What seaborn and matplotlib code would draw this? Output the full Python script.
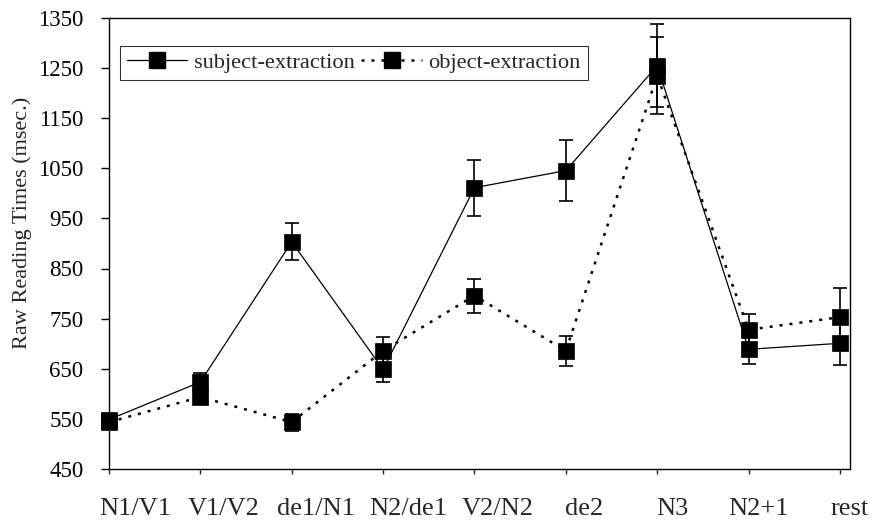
import numpy as np
import pandas as pd
import matplotlib
matplotlib.use("Agg")
import matplotlib.pyplot as plt
from matplotlib.lines import Line2D
import seaborn as sns

# ---- data ----
categories = ["N1/V1", "V1/V2", "de1/N1", "N2/de1", "V2/N2", "de2", "N3", "N2+1", "rest"]
subject_vals = [549, 624, 903, 649, 1011, 1045, 1254, 689, 701]
subject_err = [8, 17, 37, 25, 56, 61, 83, 29, 44]
object_vals = [544, 594, 544, 686, 796, 686, 1234, 728, 753]
object_err = [8, 10, 17, 27, 34, 30, 77, 31, 58]
series_names = ["subject-extraction", "object-extraction"]
y_ticks = [450, 550, 650, 750, 850, 950, 1050, 1150, 1250, 1350]

# layout: horizontal shift of category labels relative to tick marks (data units)
label_shift = [0.29, 0.26, 0.27, 0.28, 0.25, 0.20, 0.17, 0.11, 0.11]

sns.set_style("ticks")
plt.rcParams["font.family"] = ["Liberation Serif", "DejaVu Serif"]

fig = plt.figure(figsize=(8.79, 5.22), dpi=100)
ax = fig.add_axes([109 / 879, 1 - 469.3 / 522, 741 / 879, 451.8 / 522])

pos = np.arange(len(categories))
df = pd.DataFrame({
    "pos": np.concatenate([pos, pos]),
    "value": subject_vals + object_vals,
    "series": [series_names[0]] * len(pos) + [series_names[1]] * len(pos),
})

# error bars underneath
ax.errorbar(pos, subject_vals, yerr=subject_err, fmt="none", ecolor="black",
            elinewidth=1.2, capsize=5, capthick=1.2, zorder=1.5, clip_on=False)
ax.errorbar(pos, object_vals, yerr=object_err, fmt="none", ecolor="black",
            elinewidth=1.2, capsize=5, capthick=1.2, zorder=1.5, clip_on=False)

dot_style = (1.2, 2.8)
sns.lineplot(data=df, x="pos", y="value", hue="series", style="series",
             hue_order=series_names, style_order=series_names,
             palette={series_names[0]: "black", series_names[1]: "black"},
             dashes={series_names[0]: "", series_names[1]: dot_style},
             markers={series_names[0]: "s", series_names[1]: "s"},
             markersize=11, markeredgecolor="black", markeredgewidth=0.5,
             estimator=None, sort=False, legend=False, ax=ax, zorder=3)

lws = [0.9, 1.8]
for ln, lw in zip(ax.get_lines()[-2:], lws):
    ln.set_linewidth(lw)
    ln.set_clip_on(False)

ax.set_xlim(0, len(categories) - 1)
ax.set_ylim(450, 1350)
ax.set_yticks(y_ticks)
ax.tick_params(axis="y", labelsize=16.5, length=5.8, width=1, pad=12.5, direction="out", colors="black")

ax.set_xticks(pos)
ax.tick_params(axis="x", which="major", labelbottom=False, length=3.5, width=1, direction="out")
ax.set_xticks(pos + np.array(label_shift), labels=categories, minor=True)
ax.tick_params(axis="x", which="minor", length=0, labelsize=19, pad=20.5)

ax.set_xlabel("")
ax.set_ylabel("Raw Reading Times (msec.)", fontsize=16)
ax.yaxis.set_label_coords(-0.104, 0.546)

for sp in ax.spines.values():
    sp.set_visible(True)
    sp.set_color("black")
    sp.set_linewidth(1.0)

handles = [
    Line2D([], [], color="black", lw=0.9, marker="s", markersize=11, markeredgecolor="black"),
    Line2D([], [], color="black", lw=1.8, linestyle=(0, dot_style), marker="s", markersize=11,
           markeredgecolor="black"),
]
leg = ax.legend(handles, series_names, loc="upper left", bbox_to_anchor=(0.0148, 0.937),
                borderaxespad=0, ncol=2, fontsize=16.1, frameon=True, fancybox=False,
                edgecolor="black", handlelength=2.7, handletextpad=0.3,
                columnspacing=0.3, borderpad=0.3, numpoints=1)
leg.get_frame().set_linewidth(0.8)

fig.savefig("out.png", dpi=100, facecolor="white")
